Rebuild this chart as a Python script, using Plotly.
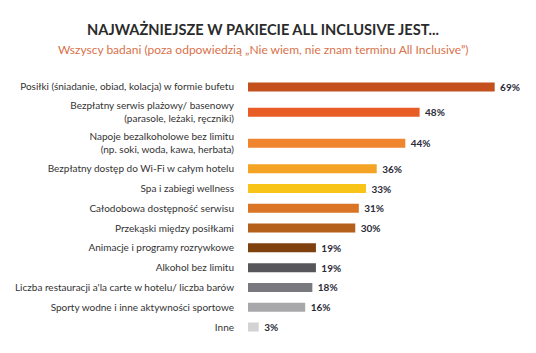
import plotly.graph_objects as go

categories = [
    "Posiłki (śniadanie, obiad, kolacja) w formie bufetu",
    "Bezpłatny serwis plażowy/ basenowy<br>(parasole, leżaki, ręczniki)",
    "Napoje bezalkoholowe bez limitu<br>(np. soki, woda, kawa, herbata)",
    "Bezpłatny dostęp do Wi-Fi w całym hotelu",
    "Spa i zabiegi wellness",
    "Całodobowa dostępność serwisu",
    "Przekąski między posiłkami",
    "Animacje i programy rozrywkowe",
    "Alkohol bez limitu",
    "Liczba restauracji a'la carte w hotelu/ liczba barów",
    "Sporty wodne i inne aktywności sportowe",
    "Inne",
]
values = [69, 48, 44, 36, 33, 31, 30, 19, 19, 18, 16, 3]
colors = ["#C4501E", "#E85D26", "#F08530", "#F4A324", "#F9C418", "#D97524",
          "#B5601A", "#7E410E", "#57575B", "#78787E", "#A8A8AA", "#D3D3D3"]

# row layout: rows with two-line labels take more vertical room
H1, H2 = 19.8, 31.0
heights = [H1 if "<br>" not in c else H2 for c in categories]
ypos = []
acc = 0.0
for i, h in enumerate(heights):
    if i > 0:
        acc += heights[i - 1] / 2 + h / 2
    ypos.append(acc)

W, Hh = 536, 353
first_center = 86.7
pad = 15
top = first_center - pad
plot_h = ypos[-1] + 2 * pad
bottom = Hh - top - plot_h
L, R = 248, 2

fig = go.Figure(go.Bar(
    x=values, y=ypos, orientation="h",
    marker=dict(color=colors, line=dict(width=0)),
    width=9,
    text=[f"\u00a0{v}%" for v in values],
    textposition="outside",
    constraintext="none",
    textfont=dict(family="Lato", size=10, color="#2b2b38", weight="bold"),
    cliponaxis=False,
    hoverinfo="skip",
))


def px_to_paper_y(py):
    return 1 - (py - top) / plot_h


def px_to_paper_x(px):
    return (px - L) / (W - L - R)


fig.update_layout(
    width=W, height=Hh,
    margin=dict(l=L, r=R, t=top, b=bottom),
    paper_bgcolor="white", plot_bgcolor="white",
    showlegend=False,
    xaxis=dict(range=[0, 80], visible=False),
    yaxis=dict(range=[ypos[-1] + pad, -pad], tickvals=ypos, ticktext=categories,
               showgrid=False, zeroline=False, showline=False,
               ticks="outside", ticklen=11, tickcolor="rgba(0,0,0,0)",
               tickfont=dict(family="Lato", size=10, color="#333333")),
    annotations=[
        dict(text="<b>NAJWAŻNIEJSZE W PAKIECIE ALL INCLUSIVE JEST...</b>",
             x=px_to_paper_x(263), y=px_to_paper_y(29), xref="paper", yref="paper",
             xanchor="center", yanchor="middle", showarrow=False,
             font=dict(family="Lato", size=14.6, color="#2b2b2b")),
        dict(text="Wszyscy badani (poza odpowiedzią „Nie wiem, nie znam terminu All Inclusive”)",
             x=px_to_paper_x(263), y=px_to_paper_y(49), xref="paper", yref="paper",
             xanchor="center", yanchor="middle", showarrow=False,
             font=dict(family="Lato", size=12, color="#D9714A")),
    ],
)

fig.write_html("out.html")
